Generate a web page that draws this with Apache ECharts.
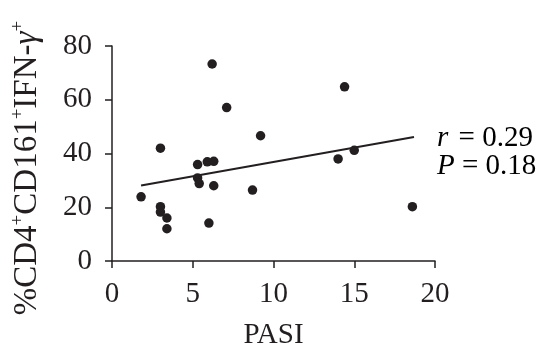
<!DOCTYPE html>
<html><head><meta charset="utf-8">
<script src="https://cdn.jsdelivr.net/npm/echarts@6/dist/echarts.min.js"></script>
<style>html,body{margin:0;padding:0;background:#fff}#c{width:547px;height:355px}</style>
</head><body><div id="c"></div>
<script>
const pasi = [6.2, 7.1, 9.2, 3.0, 14.4, 5.3, 5.9, 6.3, 5.3, 5.4, 6.3, 1.8, 8.7, 3.0, 3.0, 3.4, 3.4, 6.0, 15.0, 14.0, 18.6];
const pct  = [73.3, 57.1, 46.6, 42.0, 64.8, 35.9, 36.9, 37.1, 30.9, 28.8, 28.0, 23.9, 26.4, 20.2, 18.2, 16.0, 12.0, 14.1, 41.2, 38.0, 20.2];
const trendX = [1.8, 18.7];
const trendY = [28.1, 46.1];
const xTicks = [0, 5, 10, 15, 20];
const yTicks = [0, 20, 40, 60, 80];

const FONT = 'Liberation Serif';
const INK = '#231f20';
const chart = echarts.init(document.getElementById('c'));
const pts = pasi.map((x, i) => [x, pct[i]]);
chart.setOption({
  animation: false,
  grid: {left: 112, right: 112, top: 46, bottom: 93},
  xAxis: {
    type: 'value', min: xTicks[0], max: xTicks[xTicks.length - 1], interval: 5,
    splitLine: {show: false},
    axisLine: {lineStyle: {color: INK, width: 1.5}},
    axisTick: {length: 7, lineStyle: {color: INK, width: 1.5}},
    axisLabel: {color: INK, fontFamily: FONT, fontSize: 29, margin: 19},
    name: 'PASI', nameLocation: 'middle', nameGap: 60,
    nameTextStyle: {color: INK, fontFamily: FONT, fontSize: 29}
  },
  yAxis: {
    type: 'value', min: yTicks[0], max: yTicks[yTicks.length - 1], interval: 20,
    splitLine: {show: false},
    axisLine: {show: true, lineStyle: {color: INK, width: 1.5}},
    axisTick: {show: true, length: 7, lineStyle: {color: INK, width: 1.5}},
    axisLabel: {color: INK, fontFamily: FONT, fontSize: 29, margin: 20}
  },
  graphic: [
    {type: 'text', x: 27, y: 168, rotation: Math.PI / 2,
     style: {
       text: '{a|%CD4}{s|+}{a|CD161}{s|+}{a|IFN-}{g|γ}{s|+}',
       align: 'center', verticalAlign: 'middle', fill: INK,
       rich: {
         a: {fontFamily: FONT, fontSize: 33, color: INK, lineHeight: 36},
         g: {fontFamily: FONT, fontSize: 33, fontStyle: 'italic', color: INK, lineHeight: 36},
         s: {fontFamily: FONT, fontSize: 19, color: INK, verticalAlign: 'top', lineHeight: 36, padding: [0, 0, 14, 0]}
       }
     }},
    {type: 'text', x: 437, y: 138,
     style: {text: '{i|r}{n| = 0.29}', verticalAlign: 'middle',
       rich: {i: {fontFamily: FONT, fontSize: 29, fontStyle: 'italic', color: INK, padding: [0, 3, 0, 0]},
              n: {fontFamily: FONT, fontSize: 29, color: INK}}}},
    {type: 'text', x: 437, y: 166,
     style: {text: '{i|P}{n| = 0.18}', verticalAlign: 'middle',
       rich: {i: {fontFamily: FONT, fontSize: 29, fontStyle: 'italic', color: INK},
              n: {fontFamily: FONT, fontSize: 29, color: INK}}}}
  ],
  series: [
    {type: 'scatter', data: pts, symbolSize: 9.5, itemStyle: {color: INK, opacity: 1}, z: 3},
    {type: 'line', data: trendX.map((x, i) => [x, trendY[i]]), symbol: 'none',
     lineStyle: {color: INK, width: 2}, z: 2}
  ]
});
</script></body></html>
